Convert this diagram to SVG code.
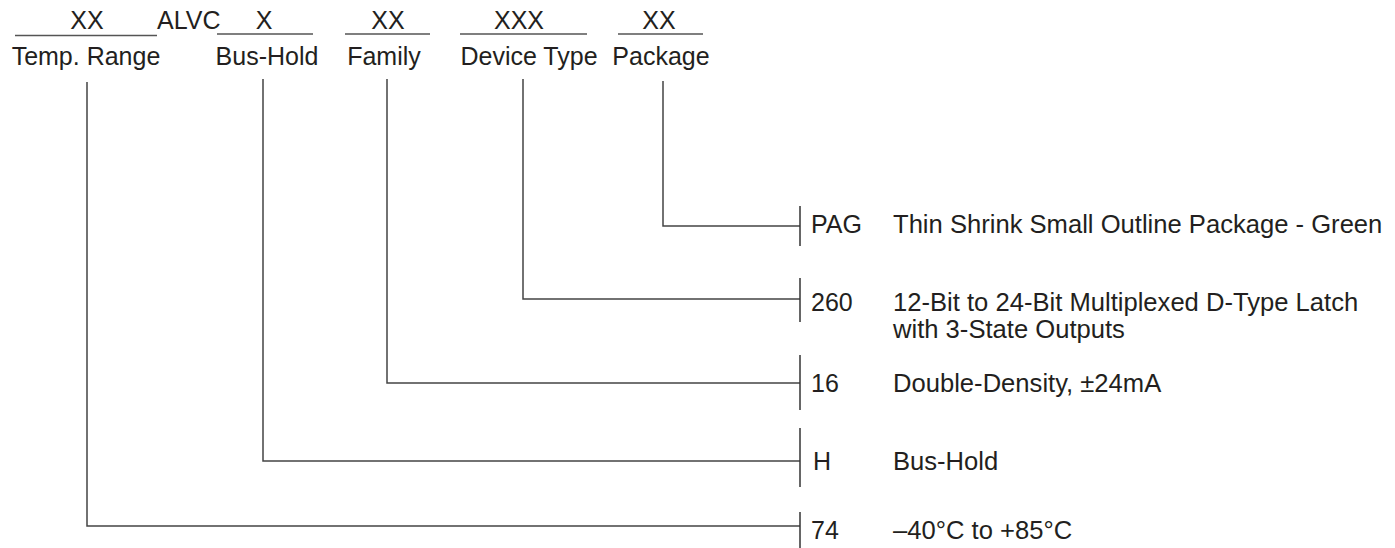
<svg xmlns="http://www.w3.org/2000/svg" width="1395" height="548" viewBox="0 0 1395 548">
<style>
text{font-family:"Liberation Sans",Arial,Helvetica,sans-serif;font-size:25px;fill:#231f20}
.m{text-anchor:middle}
.d{font-size:25.6px}
.ul{stroke:#555;stroke-width:1.6;fill:none}
.c{stroke:#444;stroke-width:1.5;fill:none}
.bar{stroke:#333;stroke-width:1.5;fill:none}
</style>
<rect width="1395" height="548" fill="#fff"/>
<g id="header">
<line class="ul" x1="15" y1="35.5" x2="157" y2="35.5"/>
<line class="ul" x1="217" y1="34" x2="313" y2="34"/>
<line class="ul" x1="345" y1="34" x2="430" y2="34"/>
<line class="ul" x1="460" y1="34" x2="587" y2="34"/>
<line class="ul" x1="618" y1="34" x2="703" y2="34"/>
<text class="m" x="87" y="29">XX</text>
<text x="157" y="29">ALVC</text>
<text class="m" x="264" y="29">X</text>
<text class="m" x="388" y="29">XX</text>
<text class="m" x="519" y="29">XXX</text>
<text class="m" x="659" y="29">XX</text>
<text class="m" x="86" y="65">Temp. Range</text>
<text class="m" x="267" y="65">Bus-Hold</text>
<text class="m" x="384" y="65">Family</text>
<text class="m" x="529" y="65">Device Type</text>
<text class="m" x="661" y="65">Package</text>
</g>
<g id="connectors">
<polyline class="c" points="663,81 663,226 800,226"/>
<polyline class="c" points="523,79 523,299 800,299"/>
<polyline class="c" points="387,79 387,383 800,383"/>
<polyline class="c" points="263,79 263,461 800,461"/>
<polyline class="c" points="87,82 87,526 800,526"/>
</g>
<g id="pkg">
<line class="bar" x1="800" y1="206" x2="800" y2="246"/>
<text x="811" y="233">PAG</text>
<text class="d" x="893" y="233">Thin Shrink Small Outline Package - Green</text>
</g>
<g id="device">
<line class="bar" x1="800" y1="278" x2="800" y2="322"/>
<text x="811" y="311">260</text>
<text class="d" x="893" y="311">12-Bit to 24-Bit Multiplexed D-Type Latch</text>
<text class="d" x="893" y="338">with 3-State Outputs</text>
</g>
<g id="family">
<line class="bar" x1="800" y1="355" x2="800" y2="410"/>
<text x="811" y="392">16</text>
<text class="d" x="893" y="392">Double-Density, ±24mA</text>
</g>
<g id="bushold">
<line class="bar" x1="800" y1="428" x2="800" y2="487"/>
<text x="813" y="470">H</text>
<text class="d" x="893" y="470">Bus-Hold</text>
</g>
<g id="temp">
<line class="bar" x1="800" y1="512" x2="800" y2="548"/>
<text x="811" y="539">74</text>
<text class="d" x="893" y="539">–40°C to +85°C</text>
</g>
</svg>
